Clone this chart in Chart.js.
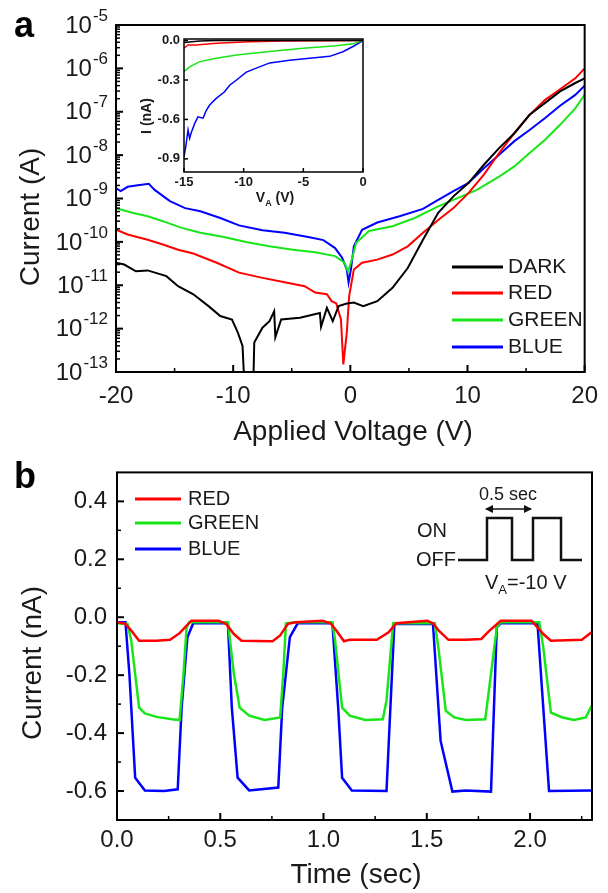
<!DOCTYPE html>
<html>
<head>
<meta charset="utf-8">
<script src="https://cdn.jsdelivr.net/npm/chart.js@4/dist/chart.umd.min.js"></script>
<style>
  body { margin: 0; background: #fff; }
  #wrap { position: relative; width: 608px; height: 893px; }
  canvas { position: absolute; left: 0; }
</style>
</head>
<body>
<div id="wrap">
  <canvas id="chartA" width="608" height="448" style="top:0"></canvas>
  <canvas id="inset" width="250" height="190" style="left:120px;top:25px"></canvas>
  <canvas id="chartB" width="608" height="445" style="top:448px"></canvas>
</div>
<script>
// ---- panel a : I-V curves (log current) ----
const voltTicks = [-20, -10, 0, 10, 20];
const decades = [1e-13, 1e-12, 1e-11, 1e-10, 1e-9, 1e-8, 1e-7, 1e-6, 1e-5];

const darkV = [-20, -19.3, -18.3, -17.3, -15.7, -14.7, -13.4, -12.1, -11.1, -10.1, -9.6, -9.2, -9.0, -8.3, -8.2, -7.5, -6.9, -6.5, -6.4, -5.9, -4.3, -2.6, -2.5, -2.0, -1.5, -1.0, -0.3, 0.3, 1.1, 2.3, 3.6, 4.9, 6.2, 7.5, 8.8, 10.1, 11.4, 12.7, 14.0, 15.3, 16.6, 17.9, 19.2, 20];
const darkI = [3.3e-11, 3.0e-11, 2.1e-11, 2.2e-11, 1.62e-11, 9.5e-12, 6.2e-12, 3.3e-12, 1.95e-12, 1.62e-12, 8.1e-13, 4.0e-13, 3e-14, 3e-14, 4.8e-13, 1.05e-12, 1.48e-12, 2.5e-12, 6.3e-13, 1.62e-12, 1.78e-12, 2.3e-12, 1.1e-12, 3.0e-12, 1.48e-12, 3.3e-12, 3.8e-12, 4.0e-12, 3.3e-12, 4.3e-12, 8.7e-12, 2.5e-11, 1.12e-10, 4.7e-10, 1.12e-9, 2.3e-9, 6.0e-9, 1.45e-8, 3.2e-8, 8.5e-8, 1.58e-7, 2.95e-7, 4.6e-7, 5.9e-7];

const redV = [-20, -19.0, -17.3, -16.0, -14.7, -13.4, -11.4, -9.5, -7.5, -5.6, -3.9, -3.0, -2.0, -1.6, -1.2, -0.8, -0.6, -0.3, -0.1, 0.3, 1.0, 2.3, 3.6, 4.9, 6.2, 7.5, 8.8, 10.1, 11.4, 12.7, 14.0, 15.3, 16.6, 17.9, 19.2, 20];
const redI = [1.9e-10, 1.48e-10, 1.12e-10, 8.7e-11, 6.6e-11, 5.4e-11, 3.3e-11, 1.95e-11, 1.48e-11, 1.17e-11, 9.5e-12, 6.8e-12, 6.2e-12, 4.3e-12, 3.8e-12, 1.62e-12, 1.5e-13, 8.1e-13, 5.6e-12, 2.3e-11, 3.3e-11, 3.9e-11, 5.1e-11, 7.9e-11, 1.62e-10, 3.2e-10, 6.0e-10, 1.35e-9, 3.55e-9, 1.12e-8, 3.2e-8, 8.5e-8, 1.86e-7, 3.3e-7, 5.9e-7, 1.0e-6];

const greenV = [-20, -18.6, -17.3, -16.0, -14.4, -12.8, -10.8, -8.8, -6.9, -4.9, -3.0, -1.3, -0.5, -0.2, 0.05, 0.5, 1.6, 3.6, 5.5, 7.5, 9.5, 10.8, 12.7, 14.0, 15.3, 16.6, 17.9, 19.2, 20];
const greenI = [6.0e-10, 4.7e-10, 3.9e-10, 3.0e-10, 2.1e-10, 1.62e-10, 1.29e-10, 9.8e-11, 7.9e-11, 6.6e-11, 5.75e-11, 4.7e-11, 3.3e-11, 2.1e-11, 3.3e-11, 9.5e-11, 1.78e-10, 2.3e-10, 3.55e-10, 6.6e-10, 1.12e-9, 1.58e-9, 3.2e-9, 5.5e-9, 1.12e-8, 2.24e-8, 5.0e-8, 1.2e-7, 2.45e-7];

const blueV = [-20, -19.6, -19.0, -18.3, -17.2, -16.7, -15.4, -14.1, -12.8, -11.1, -9.5, -7.5, -5.6, -3.6, -2.3, -1.3, -0.7, -0.3, -0.15, 0.05, 0.3, 1.0, 2.3, 4.2, 6.2, 7.5, 8.8, 10.1, 11.4, 12.7, 14.0, 15.3, 16.6, 17.9, 19.2, 20];
const blueI = [1.74e-9, 1.48e-9, 1.86e-9, 2.0e-9, 2.19e-9, 1.58e-9, 8.7e-10, 6.0e-10, 5.1e-10, 3.55e-10, 2.4e-10, 1.86e-10, 1.62e-10, 1.29e-10, 1.1e-10, 7.2e-11, 4.3e-11, 2.3e-11, 1.15e-11, 2.3e-11, 7.9e-11, 1.9e-10, 2.8e-10, 3.9e-10, 5.75e-10, 9.3e-10, 1.48e-9, 2.3e-9, 5.0e-9, 1.02e-8, 2.1e-8, 3.8e-8, 7.1e-8, 1.38e-7, 2.45e-7, 4.0e-7];

// ---- inset : linear current, reverse bias ----
const insetVTicks = [-15, -10, -5, 0];
const insetITicks = [0, -0.3, -0.6, -0.9];
const darkInV = [-15, -13.7, -12.3, 0];
const darkInI = [-0.015, -0.003, 0, 0];
const redInV = [-15, -14.66, -13.97, -12.3, -9.5, -6.7, 0];
const redInI = [-0.058, -0.033, -0.033, -0.02, -0.008, -0.003, 0];
const greenInV = [-15, -14.53, -13.69, -12.3, -10.6, -7.82, -5.03, -2.24, -0.84, 0];
const greenInI = [-0.236, -0.2, -0.16, -0.135, -0.11, -0.084, -0.058, -0.04, -0.025, 0];
const blueInV = [-15, -14.86, -14.66, -14.53, -14.39, -14.1, -13.83, -13.4, -13.13, -12.85, -12.3, -11.6, -11.17, -10.6, -9.78, -8.94, -7.82, -6.15, -4.47, -2.79, -1.68, -0.84, 0];
const blueInI = [-0.885, -0.81, -0.68, -0.745, -0.7, -0.63, -0.58, -0.59, -0.53, -0.49, -0.44, -0.39, -0.34, -0.3, -0.24, -0.21, -0.17, -0.15, -0.135, -0.12, -0.085, -0.045, 0];

// ---- panel b : photo response vs time ----
const timeTicks = [0, 0.5, 1.0, 1.5, 2.0];
const currTicks = [0.4, 0.2, 0, -0.2, -0.4, -0.6];
const redT = [0, 0.041, 0.069, 0.107, 0.191, 0.257, 0.303, 0.36, 0.491, 0.528, 0.566, 0.603, 0.753, 0.79, 0.828, 0.865, 0.996, 1.034, 1.062, 1.099, 1.127, 1.258, 1.315, 1.352, 1.502, 1.53, 1.558, 1.605, 1.689, 1.764, 1.801, 1.858, 2.007, 2.036, 2.064, 2.101, 2.251, 2.298];
const redC = [-0.017, -0.023, -0.046, -0.081, -0.081, -0.078, -0.055, -0.012, -0.012, -0.023, -0.058, -0.081, -0.083, -0.063, -0.023, -0.017, -0.012, -0.021, -0.046, -0.083, -0.078, -0.078, -0.052, -0.021, -0.012, -0.021, -0.046, -0.078, -0.078, -0.075, -0.048, -0.012, -0.012, -0.035, -0.058, -0.081, -0.078, -0.052];
const greenT = [0, 0.051, 0.069, 0.107, 0.135, 0.191, 0.266, 0.303, 0.322, 0.337, 0.35, 0.537, 0.566, 0.594, 0.64, 0.715, 0.79, 0.805, 0.818, 0.865, 1.043, 1.056, 1.09, 1.127, 1.202, 1.287, 1.305, 1.337, 1.539, 1.558, 1.592, 1.633, 1.689, 1.783, 1.811, 1.839, 1.858, 2.045, 2.064, 2.101, 2.157, 2.213, 2.27, 2.298];
const greenC = [-0.021, -0.023, -0.081, -0.312, -0.332, -0.344, -0.352, -0.355, -0.196, -0.035, -0.017, -0.017, -0.196, -0.312, -0.34, -0.355, -0.346, -0.196, -0.021, -0.017, -0.017, -0.081, -0.312, -0.34, -0.355, -0.352, -0.288, -0.021, -0.021, -0.115, -0.323, -0.346, -0.355, -0.352, -0.196, -0.035, -0.017, -0.017, -0.104, -0.329, -0.346, -0.355, -0.346, -0.306];
const blueT = [0, 0.041, 0.06, 0.088, 0.135, 0.228, 0.294, 0.313, 0.341, 0.369, 0.537, 0.556, 0.584, 0.64, 0.781, 0.8, 0.837, 0.875, 1.043, 1.071, 1.09, 1.137, 1.305, 1.32, 1.343, 1.53, 1.567, 1.624, 1.689, 1.811, 1.839, 1.858, 2.036, 2.064, 2.092, 2.298];
const blueC = [-0.017, -0.017, -0.196, -0.554, -0.598, -0.6, -0.594, -0.312, -0.069, -0.021, -0.021, -0.312, -0.554, -0.598, -0.588, -0.312, -0.069, -0.021, -0.021, -0.312, -0.554, -0.598, -0.6, -0.369, -0.023, -0.023, -0.427, -0.602, -0.598, -0.602, -0.035, -0.021, -0.021, -0.312, -0.6, -0.598];

const RED = '#ff0000', GREEN = '#19e619', BLUE = '#0000ff', BLACK = '#000000';
const FONT = '"Liberation Sans", Arial, sans-serif';
const INK = '#1a1a1a';

const pts = (xs, ys) => xs.map((x, i) => ({ x: x, y: ys[i] }));

function line(label, color, data, width) {
  return { label: label, data: data, borderColor: color, borderWidth: width, pointRadius: 0, tension: 0, fill: false };
}

function txt(ctx, s, x, y, size, opt) {
  opt = opt || {};
  ctx.save();
  ctx.font = (opt.bold ? 'bold ' : '') + size + 'px ' + FONT;
  ctx.fillStyle = opt.color || INK;
  ctx.textAlign = opt.align || 'left';
  ctx.textBaseline = opt.base || 'middle';
  ctx.translate(x, y);
  if (opt.rot) ctx.rotate(opt.rot);
  ctx.fillText(s, 0, 0);
  ctx.restore();
}

// text with a subscript part: parts = [[text, size, dy], ...], centred on x
function richText(ctx, parts, x, y, bold, align) {
  ctx.save();
  const pre = bold ? 'bold ' : '';
  let w = 0;
  parts.forEach(p => { ctx.font = pre + p[1] + 'px ' + FONT; w += ctx.measureText(p[0]).width; });
  let cx = align === 'left' ? x : x - w / 2;
  ctx.fillStyle = INK;
  ctx.textBaseline = 'alphabetic';
  ctx.textAlign = 'left';
  parts.forEach(p => {
    ctx.font = pre + p[1] + 'px ' + FONT;
    ctx.fillText(p[0], cx, y + p[2]);
    cx += ctx.measureText(p[0]).width;
  });
  ctx.restore();
}

// box round the plot + inward tick marks on bottom and left axes
function frameTicks(chart, lw, marks) {
  const ctx = chart.ctx, a = chart.chartArea;
  ctx.save();
  ctx.strokeStyle = '#000';
  ctx.lineWidth = lw;
  ctx.strokeRect(a.left, a.top, a.right - a.left, a.bottom - a.top);
  marks.forEach(m => {
    const s = chart.scales[m.axis];
    ctx.lineWidth = m.w;
    m.values.forEach(v => {
      const p = s.getPixelForValue(v);
      ctx.beginPath();
      if (m.axis === 'x') { ctx.moveTo(p, a.bottom); ctx.lineTo(p, a.bottom - m.len); }
      else { ctx.moveTo(a.left, p); ctx.lineTo(a.left + m.len, p); }
      ctx.stroke();
    });
  });
  ctx.restore();
}

function legendBox(chart, x1, x2, xt, ys, size) {
  const ctx = chart.ctx;
  chart.data.datasets.forEach((d, i) => {
    ctx.save();
    ctx.strokeStyle = d.borderColor;
    ctx.lineWidth = 3;
    ctx.beginPath();
    ctx.moveTo(x1, ys[i]);
    ctx.lineTo(x2, ys[i]);
    ctx.stroke();
    ctx.restore();
    txt(chart.ctx, d.label, xt, ys[i], size);
  });
}

const logMinor = [];
decades.slice(0, -1).forEach(d => { for (let k = 2; k <= 9; k++) logMinor.push(d * k); });

function baseScale(min, max, ticks, fit, extra) {
  return Object.assign({
    type: 'linear', min: min, max: max,
    grid: { display: false, drawTicks: false },
    border: { display: false },
    afterBuildTicks: s => { s.ticks = ticks.map(v => ({ value: v })); },
    afterFit: fit
  }, extra);
}

// ---------- chart a ----------
new Chart(document.getElementById('chartA'), {
  type: 'line',
  data: {
    datasets: [
      line('DARK', BLACK, pts(darkV, darkI), 2),
      line('RED', RED, pts(redV, redI), 2),
      line('GREEN', GREEN, pts(greenV, greenI), 2),
      line('BLUE', BLUE, pts(blueV, blueI), 2)
    ]
  },
  options: {
    responsive: false,
    animation: false,
    layout: { padding: { top: 25, right: 18, left: 0, bottom: 0 } },
    plugins: { legend: { display: false }, tooltip: { enabled: false } },
    scales: {
      x: baseScale(-20, 20, voltTicks, s => { s.height = 76; }, {
        ticks: { font: { family: FONT, size: 24 }, color: INK, padding: 10, maxRotation: 0, autoSkip: false }
      }),
      y: baseScale(1e-13, 1e-5, decades, s => { s.width = 116; }, {
        type: 'logarithmic',
        ticks: { display: false }
      })
    }
  },
  plugins: [{
    id: 'decoA',
    afterDraw(chart) {
      const ctx = chart.ctx, y = chart.scales.y;
      frameTicks(chart, 2, [
        { axis: 'x', values: voltTicks, len: 7, w: 2 },
        { axis: 'x', values: [-15, -5, 5, 15], len: 4, w: 1.5 },
        { axis: 'y', values: decades, len: 7, w: 2 },
        { axis: 'y', values: logMinor, len: 4, w: 1.5 }
      ]);
      // decade labels 10^n
      decades.forEach(d => {
        const p = y.getPixelForValue(d);
        const ex = String(Math.round(Math.log10(d)));
        ctx.save();
        ctx.font = '17px ' + FONT;
        const ew = ctx.measureText(ex).width;
        ctx.restore();
        txt(ctx, ex, 108, p - 9, 17, { align: 'right' });
        txt(ctx, '10', 107 - ew, p + 1, 24, { align: 'right' });
      });
      txt(ctx, 'Current (A)', 31, 217, 28, { align: 'center', rot: -Math.PI / 2 });
      txt(ctx, 'Applied Voltage (V)', 353, 432, 28, { align: 'center' });
      txt(ctx, 'a', 14, 37, 36, { bold: true, base: 'alphabetic', color: '#000' });
      legendBox(chart, 452, 503, 508, [267, 293, 320, 347], 21);
    }
  }]
});

// ---------- inset ----------
new Chart(document.getElementById('inset'), {
  type: 'line',
  data: {
    datasets: [
      line('DARK', BLACK, pts(darkInV, darkInI), 1.5),
      line('RED', RED, pts(redInV, redInI), 1.5),
      line('GREEN', GREEN, pts(greenInV, greenInI), 1.5),
      line('BLUE', BLUE, pts(blueInV, blueInI), 1.5)
    ]
  },
  options: {
    responsive: false,
    animation: false,
    layout: { padding: { top: 14, right: 7, left: 0, bottom: 0 } },
    plugins: { legend: { display: false }, tooltip: { enabled: false } },
    scales: {
      x: baseScale(-15, 0, insetVTicks, s => { s.height = 43; }, {
        ticks: { font: { family: FONT, size: 13, weight: 'bold' }, color: INK, padding: 3, maxRotation: 0, autoSkip: false }
      }),
      y: baseScale(-1.0, 0.012, insetITicks, s => { s.width = 64; }, {
        ticks: { font: { family: FONT, size: 13, weight: 'bold' }, color: INK, padding: 4, callback: v => v.toFixed(1) }
      })
    }
  },
  plugins: [{
    id: 'decoInset',
    afterDraw(chart) {
      frameTicks(chart, 1.5, [
        { axis: 'x', values: insetVTicks, len: 4, w: 1.5 },
        { axis: 'y', values: insetITicks, len: 4, w: 1.5 }
      ]);
      txt(chart.ctx, 'I (nA)', 27, 91, 14, { bold: true, align: 'center', rot: -Math.PI / 2 });
      richText(chart.ctx, [['V', 14, 0], ['A', 9, 4], [' (V)', 14, 0]], 155, 177, true);
    }
  }]
});

// ---------- chart b ----------
new Chart(document.getElementById('chartB'), {
  type: 'line',
  data: {
    datasets: [
      line('RED', RED, pts(redT, redC), 2.5),
      line('GREEN', GREEN, pts(greenT, greenC), 2.5),
      line('BLUE', BLUE, pts(blueT, blueC), 2.5)
    ]
  },
  options: {
    responsive: false,
    animation: false,
    layout: { padding: { top: 24, right: 16, left: 0, bottom: 0 } },
    plugins: { legend: { display: false }, tooltip: { enabled: false } },
    scales: {
      x: baseScale(0, 2.3, timeTicks, s => { s.height = 73; }, {
        ticks: { font: { family: FONT, size: 24 }, color: INK, padding: 6, maxRotation: 0, autoSkip: false, callback: v => v.toFixed(1) }
      }),
      y: baseScale(-0.7, 0.5, currTicks, s => { s.width = 117; }, {
        ticks: { font: { family: FONT, size: 24 }, color: INK, padding: 10, callback: v => v.toFixed(1) }
      })
    }
  },
  plugins: [{
    id: 'decoB',
    afterDraw(chart) {
      const ctx = chart.ctx;
      frameTicks(chart, 2, [
        { axis: 'x', values: timeTicks, len: 7, w: 2 },
        { axis: 'x', values: [0.25, 0.75, 1.25, 1.75, 2.25], len: 4, w: 1.5 },
        { axis: 'y', values: currTicks, len: 7, w: 2 },
        { axis: 'y', values: [0.3, 0.1, -0.1, -0.3, -0.5], len: 4, w: 1.5 }
      ]);
      txt(ctx, 'Current (nA)', 33, 215, 28, { align: 'center', rot: -Math.PI / 2 });
      txt(ctx, 'Time (sec)', 356, 427, 28, { align: 'center' });
      txt(ctx, 'b', 14, 40, 36, { bold: true, base: 'alphabetic', color: '#000' });
      legendBox(chart, 135, 181, 188, [51, 75, 101], 20);

      // light pulse sketch
      ctx.save();
      ctx.strokeStyle = '#111';
      ctx.lineWidth = 2.5;
      ctx.beginPath();
      ctx.moveTo(458, 112); ctx.lineTo(487, 112); ctx.lineTo(487, 70); ctx.lineTo(512, 70);
      ctx.lineTo(512, 112); ctx.lineTo(533, 112); ctx.lineTo(533, 70); ctx.lineTo(561, 70);
      ctx.lineTo(561, 112); ctx.lineTo(582, 112);
      ctx.stroke();
      ctx.lineWidth = 1.5;
      ctx.beginPath(); ctx.moveTo(486, 61); ctx.lineTo(531, 61); ctx.stroke();
      ctx.fillStyle = '#111';
      ctx.beginPath(); ctx.moveTo(485, 61); ctx.lineTo(493, 57); ctx.lineTo(493, 65); ctx.closePath(); ctx.fill();
      ctx.beginPath(); ctx.moveTo(532, 61); ctx.lineTo(524, 57); ctx.lineTo(524, 65); ctx.closePath(); ctx.fill();
      ctx.restore();
      txt(ctx, '0.5 sec', 508, 47, 18, { align: 'center' });
      txt(ctx, 'ON', 417, 83, 20);
      txt(ctx, 'OFF', 416, 112, 20);
      richText(ctx, [['V', 20, 0], ['A', 13, 5], ['=-10 V', 20, 0]], 485, 141, false, 'left');
    }
  }]
});
</script>
</body>
</html>
